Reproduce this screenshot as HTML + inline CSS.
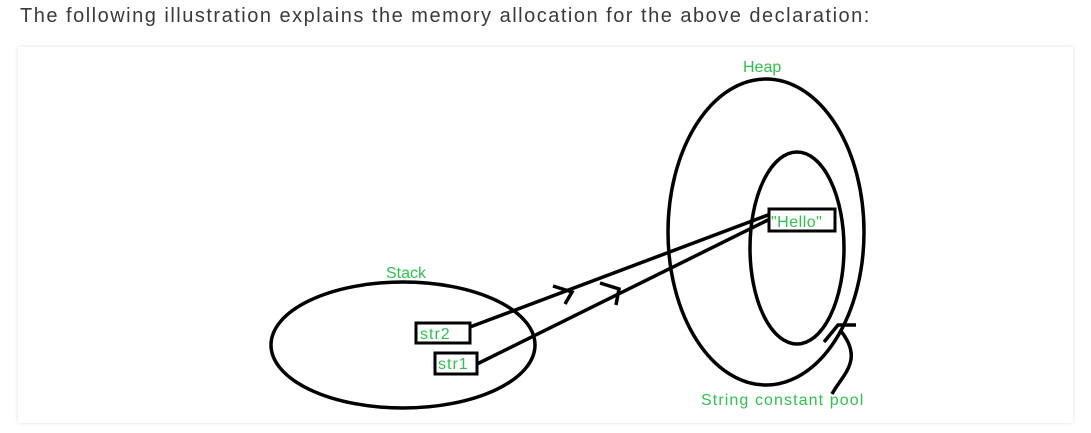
<!DOCTYPE html>
<html><head><style>
body{margin:0;width:1091px;height:433px;background:#fff;overflow:hidden;font-family:"Liberation Sans",sans-serif}
.t{position:absolute;left:20px;top:5px;font-size:20px;color:#3a3a3a;letter-spacing:1.5px}
.panel{position:absolute;left:18px;top:47px;width:1055px;height:376px;background:#fff;box-shadow:0 0 4px rgba(0,0,0,0.12)}
</style></head><body>
<div class="t">The following illustration explains the memory allocation for the above declaration:</div>
<div class="panel"></div>
<svg width="1091" height="433" style="position:absolute;left:0;top:0" font-family="Liberation Sans, sans-serif">
<g fill="none" stroke="#000" stroke-width="3.5">
<ellipse cx="403" cy="345" rx="132" ry="63"/>
<ellipse cx="766" cy="232" rx="98" ry="153"/>
<ellipse cx="797" cy="248" rx="47" ry="96"/>
<line x1="470" y1="327" x2="768" y2="215"/>
<line x1="477" y1="364" x2="768" y2="220"/>
<polyline points="553,286 572,292 565,304"/>
<polyline points="600,283 619,289 616,305"/>
<path d="M832,394 C842,375 865,360 840,330"/>
<polyline points="824,342 838,325 856,325"/>
<rect x="416" y="323" width="54" height="20" stroke-width="3"/>
<rect x="435" y="353" width="42" height="21" stroke-width="3"/>
<rect x="769" y="209" width="66" height="22" stroke-width="3"/>
</g>
<g fill="#2ec24a" font-size="16">
<text x="743" y="72">Heap</text>
<text x="386" y="278">Stack</text>
<text x="420" y="339" letter-spacing="1">str2</text>
<text x="438" y="369" letter-spacing="1">str1</text>
<text x="771" y="227" letter-spacing="0.5">"Hello"</text>
<text x="701" y="405" letter-spacing="1.1">String constant pool</text>
</g>
</svg>
</body></html>
